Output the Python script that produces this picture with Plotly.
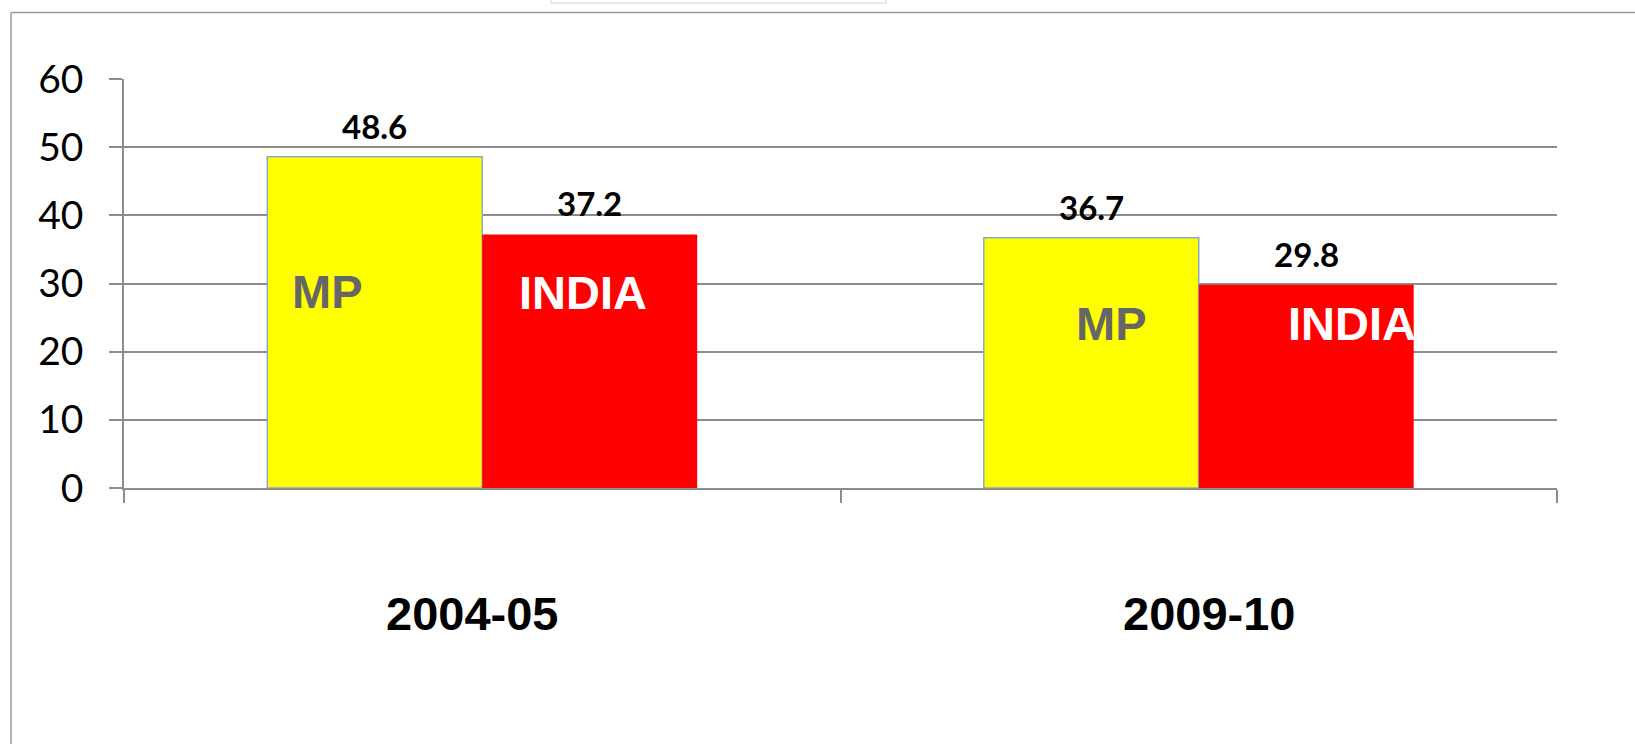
import plotly.graph_objects as go

# ---- data ----
categories = ["2004-05", "2009-10"]
mp_values = [48.6, 36.7]
india_values = [37.2, 29.8]
series_names = ["MP", "INDIA"]
y_ticks = [0, 10, 20, 30, 40, 50, 60]

# ---- layout helpers ----
W, H = 1635, 744
ML, MR, MT, MB = 124, 78, 79, 256
plot_w = W - ML - MR
plot_h = H - MT - MB


def px_to_paper_x(px):
    return (px - ML) / plot_w


def px_to_paper_y(py):
    return (H - MB - py) / plot_h


fig = go.Figure()
fig.add_trace(go.Bar(
    x=categories, y=mp_values, name=series_names[0],
    marker=dict(color="#FFFF00", line=dict(color="#8DA8CC", width=1.5)),
))
fig.add_trace(go.Bar(
    x=categories, y=india_values, name=series_names[1],
    marker=dict(color="#FF0000", line=dict(color="#FF0000", width=0)),
))

annotations = []
# value labels above bars
for i, (m, n) in enumerate(zip(mp_values, india_values)):
    for xoff, v in ((-0.15, m), (0.15, n)):
        annotations.append(dict(
            x=i + xoff, y=v, xref="x", yref="y", text=f"{v:.1f}",
            showarrow=False, yshift=31, yanchor="middle", xanchor="center",
            font=dict(family="Lato", size=33, color="#000000", weight="bold"),
        ))

# series name labels inside bars (position offsets relative to category index)
inside_label_pos = [(-0.216, 28.9), (0.141, 28.7), (0.878, 24.2), (1.214, 24.2)]
inside_label_text = [series_names[0], series_names[1], series_names[0], series_names[1]]
inside_label_color = ["#666666", "#FFFFFF", "#666666", "#FFFFFF"]
for (lx, ly), t, c in zip(inside_label_pos, inside_label_text, inside_label_color):
    annotations.append(dict(
        x=lx, y=ly, xref="x", yref="y", text=t, showarrow=False,
        xanchor="center", yanchor="middle",
        font=dict(family="Liberation Sans", size=47, color=c, weight="bold"),
    ))

# category labels below the axis (slightly offset, as in the original)
cat_label_xshift = [-10, 11]
for i, (cat, xs) in enumerate(zip(categories, cat_label_xshift)):
    annotations.append(dict(
        x=i, y=px_to_paper_y(613), xref="x", yref="paper", text=cat,
        showarrow=False, xanchor="center", yanchor="middle", xshift=xs,
        font=dict(family="Liberation Sans", size=47, color="#000000", weight="bold"),
    ))

shapes = [
    # outer frame (left and top edges)
    dict(type="line", xref="paper", yref="paper",
         x0=px_to_paper_x(11), x1=px_to_paper_x(W + 20),
         y0=px_to_paper_y(12.5), y1=px_to_paper_y(12.5),
         line=dict(color="#9a9a9a", width=1.5)),
    dict(type="line", xref="paper", yref="paper",
         x0=px_to_paper_x(11), x1=px_to_paper_x(11),
         y0=px_to_paper_y(12.5), y1=px_to_paper_y(H + 20),
         line=dict(color="#9a9a9a", width=1.5)),
    # faint box at the top edge
    dict(type="rect", xref="paper", yref="paper",
         x0=px_to_paper_x(551), x1=px_to_paper_x(886),
         y0=px_to_paper_y(3), y1=px_to_paper_y(-10),
         line=dict(color="#e6e2d4", width=1.5), fillcolor="rgba(0,0,0,0)"),
]

fig.update_layout(
    width=W, height=H,
    margin=dict(l=ML, r=MR, t=MT, b=MB, pad=0),
    paper_bgcolor="white", plot_bgcolor="white",
    barmode="group", bargap=0.4, bargroupgap=0,
    showlegend=False,
    annotations=annotations,
    shapes=shapes,
    xaxis=dict(
        type="category", tickson="boundaries",
        ticks="outside", ticklen=13, tickwidth=1.5, tickcolor="#8c8c8c",
        showline=True, linecolor="#8c8c8c", linewidth=1.5,
        showgrid=False, zeroline=False, showticklabels=False,
    ),
    yaxis=dict(
        range=[0, 60], tickvals=y_ticks, ticktext=[str(t) for t in y_ticks],
        ticks="outside", ticklen=13, tickwidth=1.5, tickcolor="#8c8c8c",
        showline=True, linecolor="#8c8c8c", linewidth=1.5,
        showgrid=True, gridcolor="#8c8c8c", gridwidth=1.5,
        zeroline=False,
        tickfont=dict(family="Lato", size=39, color="#000000"),
        ticklabelstandoff=18,
    ),
)

fig.write_html(
    "out.html",
    config={"displayModeBar": False},
    post_script="document.body.style.margin='0';document.body.style.overflow='hidden';",
)
